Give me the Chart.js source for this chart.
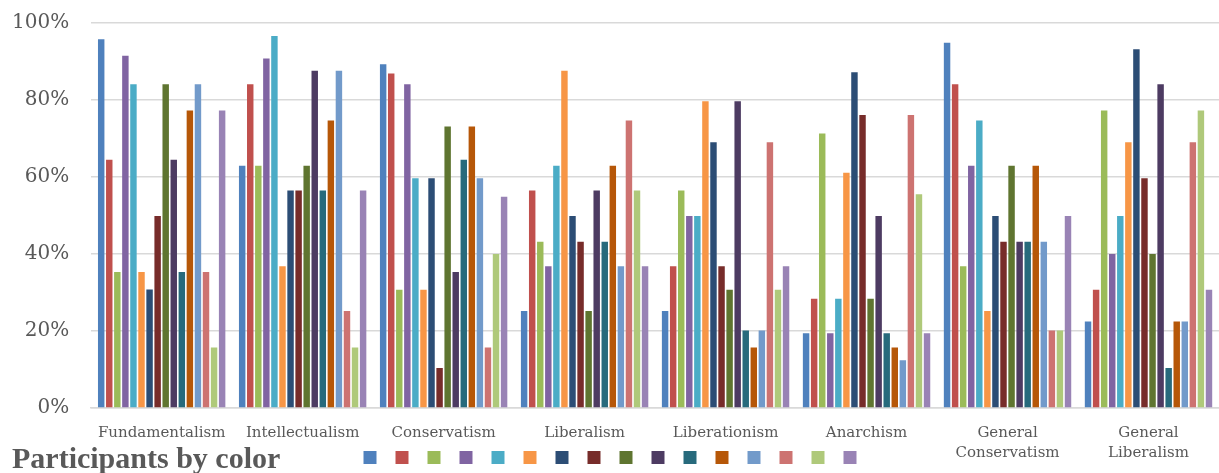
<!DOCTYPE html>
<html><head><meta charset="utf-8">
<script src="https://cdn.jsdelivr.net/npm/chart.js@4.4.1/dist/chart.umd.min.js"></script>
<style>
html,body{margin:0;padding:0;background:#fff;}
#wrap{position:relative;width:1219px;height:473px;overflow:hidden;}
#title{position:absolute;left:12px;top:443px;font:bold 30px/30px "Liberation Serif",serif;color:#595959;white-space:nowrap;}
</style></head><body>
<div id="wrap"><canvas id="c" width="1219" height="473"></canvas><div id="title">Participants by color</div></div>
<script>
const categories = ['Fundamentalism','Intellectualism','Conservatism','Liberalism','Liberationism','Anarchism',['General','Conservatism'],['General','Liberalism']];
const yTicks = [0, 20, 40, 60, 80, 100];

const p1  = [95.8, 62.9, 89.3, 25.2, 25.2, 19.4, 94.9, 22.5];
const p2  = [64.5, 84.1, 86.9, 56.5, 36.8, 28.4, 84.1, 30.7];
const p3  = [35.3, 62.9, 30.7, 43.2, 56.5, 71.3, 36.8, 77.3];
const p4  = [91.5, 90.8, 84.1, 36.8, 49.9, 19.4, 62.9, 40.0];
const p5  = [84.1, 96.6, 59.7, 62.9, 49.9, 28.4, 74.7, 49.9];
const p6  = [35.3, 36.8, 30.7, 87.6, 79.7, 61.1, 25.2, 69.0];
const p7  = [30.8, 56.5, 59.7, 49.9, 69.0, 87.2, 49.9, 93.2];
const p8  = [49.9, 56.5, 10.4, 43.2, 36.8, 76.1, 43.2, 59.7];
const p9  = [84.1, 62.9, 73.1, 25.2, 30.7, 28.4, 62.9, 40.0];
const p10 = [64.5, 87.6, 35.3, 56.5, 79.7, 49.9, 43.2, 84.1];
const p11 = [35.3, 56.5, 64.5, 43.2, 20.1, 19.4, 43.2, 10.4];
const p12 = [77.3, 74.7, 73.1, 62.9, 15.7, 15.7, 62.9, 22.5];
const p13 = [84.1, 87.6, 59.7, 36.8, 20.1, 12.4, 43.2, 22.5];
const p14 = [35.3, 25.2, 15.7, 74.7, 69.0, 76.1, 20.1, 69.0];
const p15 = [15.7, 15.7, 40.0, 56.5, 30.7, 55.5, 20.1, 77.3];
const p16 = [77.3, 56.5, 54.9, 36.8, 36.8, 19.4, 49.9, 30.7];

const series = [p1,p2,p3,p4,p5,p6,p7,p8,p9,p10,p11,p12,p13,p14,p15,p16];
const colors = ['#4F81BD','#C0504D','#9BBB59','#8064A2','#4BACC6','#F79646','#2C4D75','#772C2A',
                '#5F7530','#4D3B62','#276A7C','#B65708','#729ACA','#CD7371','#AFC97A','#9983B5'];

const datasets = series.map((d, i) => ({
  label: '',
  data: d,
  backgroundColor: colors[i],
  borderWidth: 0,
  categoryPercentage: 0.915,
  barPercentage: 0.8
}));

const textColor = '#595959';
const serif = '"DejaVu Serif", serif';

// place the legend on the same row as the bottom caption (overlapping the label band)
const legendRow = {
  id: 'legendRow',
  afterLayout(chart) {
    const lg = chart.legend;
    if (!lg) return;
    lg.top = 438; lg.bottom = 473; lg.height = 35;
    lg.left = 7; lg.width = lg.right - lg.left;
  }
};

new Chart(document.getElementById('c'), {
  type: 'bar',
  data: { labels: categories, datasets },
  plugins: [legendRow],
  options: {
    responsive: false,
    devicePixelRatio: 1,
    animation: false,
    layout: { padding: { top: 0, left: -10, right: 0, bottom: 0 } },
    plugins: {
      title: { display: false },
      tooltip: { enabled: false },
      legend: {
        position: 'bottom',
        maxHeight: 1,
        labels: {
          boxWidth: 13, boxHeight: 13, padding: 13,
          font: { size: 12 },
          generateLabels: (chart) => chart.data.datasets.map((ds, i) => ({
            text: '', fillStyle: ds.backgroundColor, strokeStyle: ds.backgroundColor,
            lineWidth: 0, hidden: false, datasetIndex: i
          }))
        }
      }
    },
    scales: {
      x: {
        grid: { display: false },
        border: { display: true, color: '#d9d9d9', width: 1.5 },
        ticks: {
          color: textColor,
          font: { family: serif, size: 15, lineHeight: 1.35 },
          maxRotation: 0, minRotation: 0, autoSkip: false, padding: 7
        },
        afterFit: (scale) => { scale.height = 64; }
      },
      y: {
        min: 0, max: 100,
        afterBuildTicks: (scale) => { scale.ticks = yTicks.map(v => ({ value: v })); },
        afterFit: (scale) => { scale.paddingTop = 23; scale.paddingBottom = 0; },
        grid: { color: '#d9d9d9', lineWidth: 1.5, drawTicks: false },
        border: { display: false },
        ticks: {
          color: textColor,
          font: { family: serif, size: 20 },
          padding: 22,
          callback: (v) => v + '%'
        }
      }
    }
  }
});
</script>
</body></html>
